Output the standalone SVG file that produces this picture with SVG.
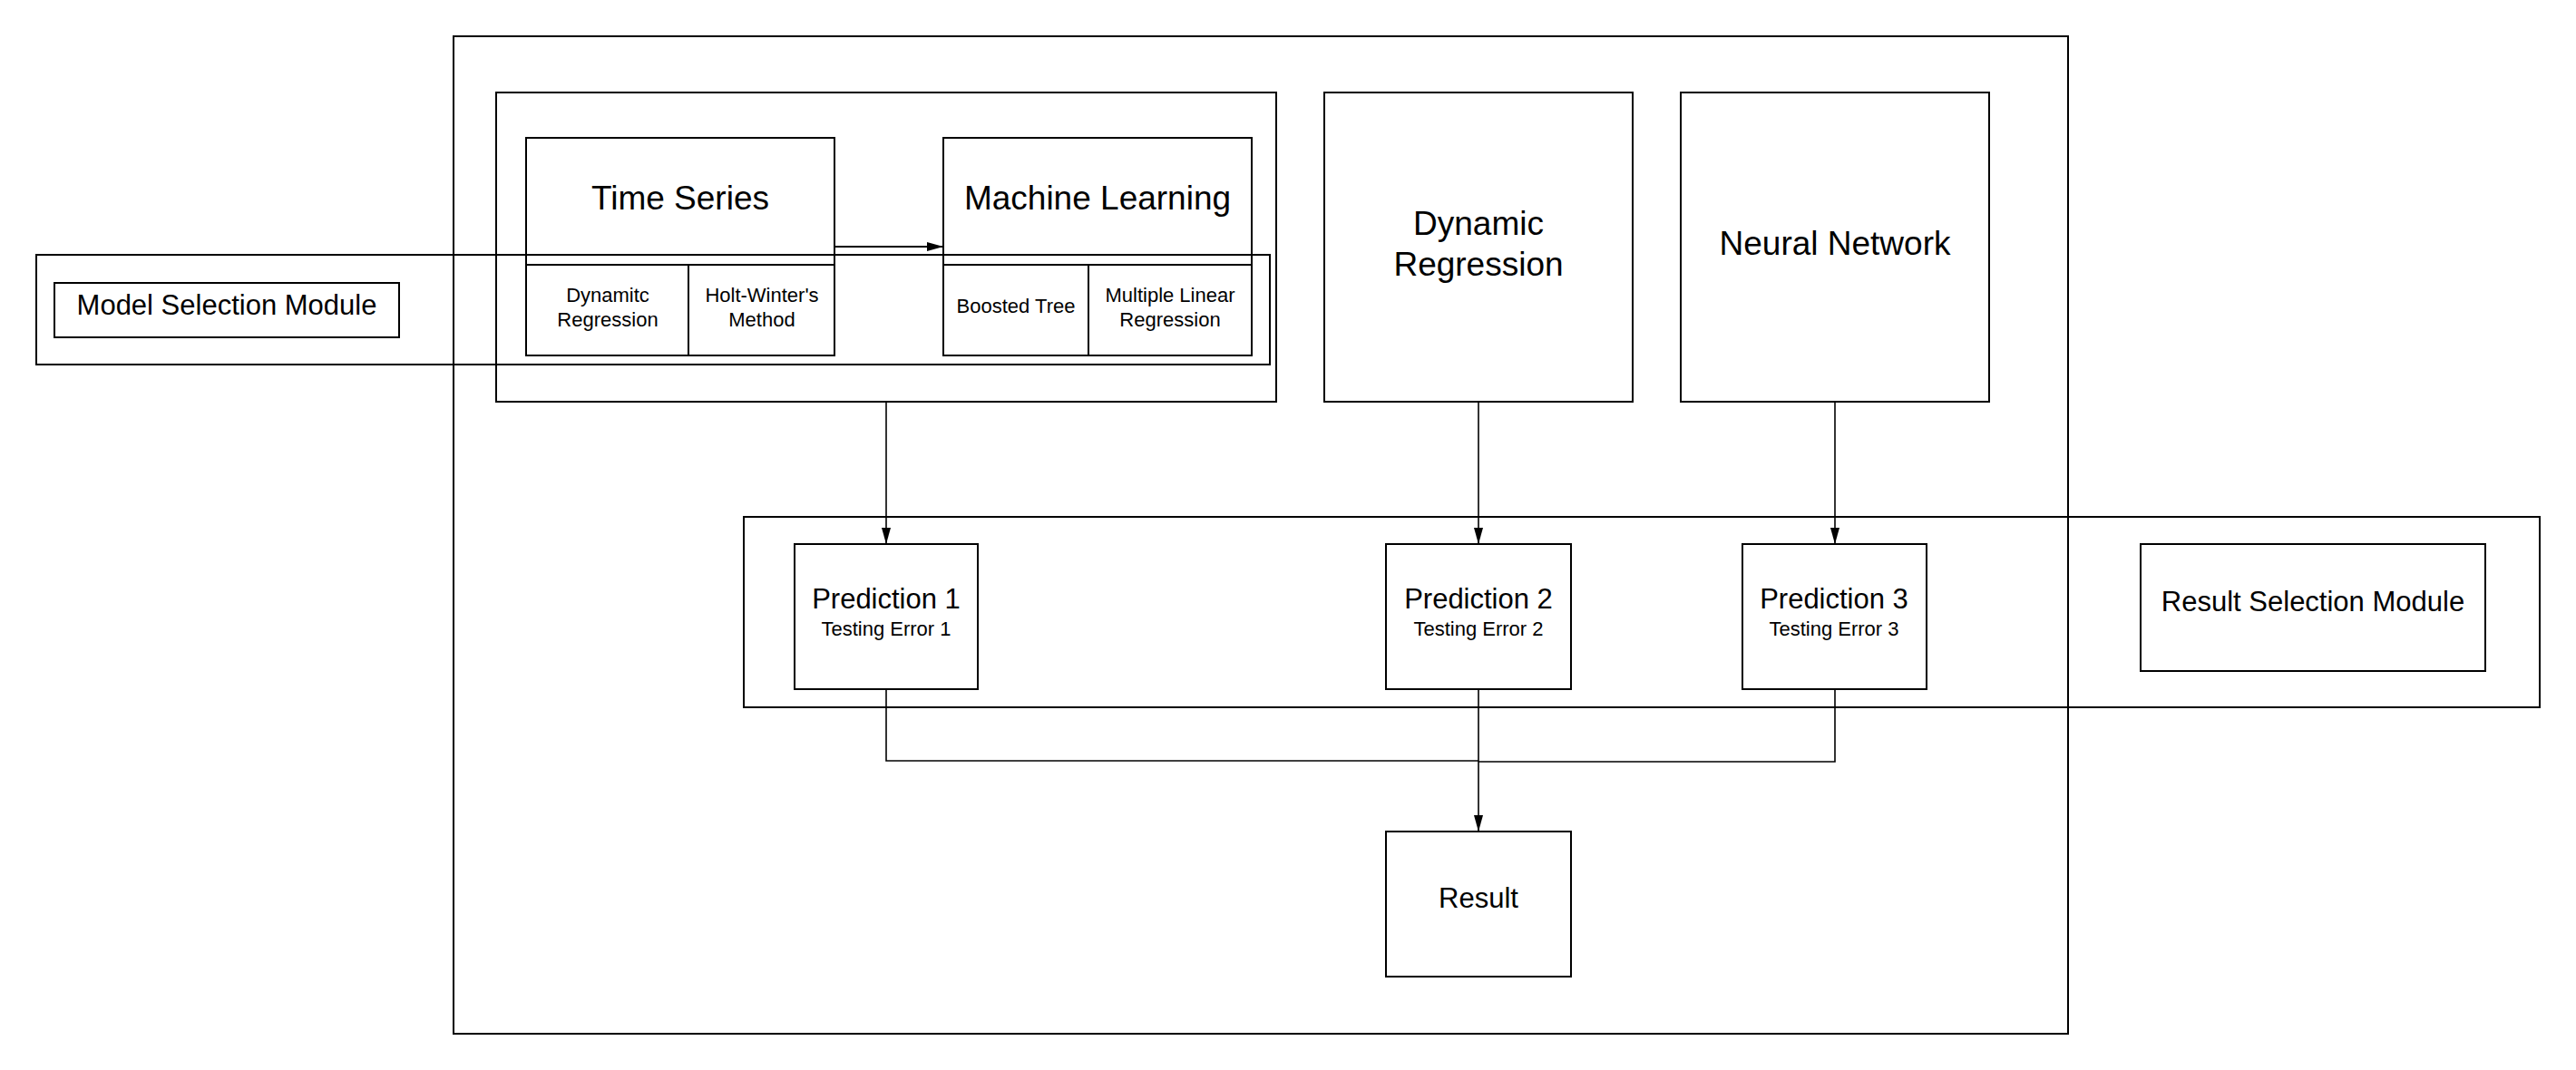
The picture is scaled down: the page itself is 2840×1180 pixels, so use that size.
<svg xmlns="http://www.w3.org/2000/svg" width="2840" height="1180" viewBox="0 0 2840 1180">
<style>
.box{fill:none;stroke:#000;stroke-width:2}
.cn{fill:none;stroke:#000;stroke-width:1.6}
text{font-family:"Liberation Sans",Arial,sans-serif;fill:#000;text-anchor:middle}
.big{font-size:37px}
.mid{font-size:31px}
.sm{font-size:22px}
</style>
<defs>
<marker id="ah" viewBox="0 0 18 10" refX="18" refY="5" markerWidth="18" markerHeight="10" markerUnits="userSpaceOnUse" orient="auto">
<path d="M0,0 L18,5 L0,10 Z" fill="#000"/>
</marker>
</defs>
<rect width="2840" height="1180" fill="#fff"/>
<g id="outer"><rect class="box" x="500" y="40" width="1780" height="1100"/></g>
<g id="model-group"><rect class="box" x="547" y="102" width="860" height="341"/></g>
<g id="time-series">
<rect class="box" x="580" y="152" width="340" height="240"/>
<line class="box" x1="580" y1="292" x2="920" y2="292"/>
<line class="box" x1="759" y1="292" x2="759" y2="392"/>
<text class="big" x="750" y="231">Time Series</text>
<text class="sm" x="670" y="333">Dynamitc</text>
<text class="sm" x="670" y="360">Regression</text>
<text class="sm" x="840" y="333">Holt-Winter's</text>
<text class="sm" x="840" y="360">Method</text>
</g>
<g id="machine-learning">
<rect class="box" x="1040" y="152" width="340" height="240"/>
<line class="box" x1="1040" y1="292" x2="1380" y2="292"/>
<line class="box" x1="1200" y1="292" x2="1200" y2="392"/>
<text class="big" x="1210" y="231">Machine Learning</text>
<text class="sm" x="1120" y="345">Boosted Tree</text>
<text class="sm" x="1290" y="333">Multiple Linear</text>
<text class="sm" x="1290" y="360">Regression</text>
</g>
<g id="dynamic-regression">
<rect class="box" x="1460" y="102" width="340" height="341"/>
<text class="big" x="1630" y="259">Dynamic</text>
<text class="big" x="1630" y="304">Regression</text>
</g>
<g id="neural-network">
<rect class="box" x="1853" y="102" width="340" height="341"/>
<text class="big" x="2023" y="281">Neural Network</text>
</g>
<g id="model-selection">
<rect class="box" x="40" y="281" width="1360" height="121"/>
<rect class="box" x="60" y="312" width="380" height="60"/>
<text class="mid" x="250" y="347">Model Selection Module</text>
</g>
<g id="result-selection">
<rect class="box" x="820" y="570" width="1980" height="210"/>
<rect class="box" x="2360" y="600" width="380" height="140"/>
<text class="mid" x="2550" y="674">Result Selection Module</text>
</g>
<g id="prediction-1">
<rect class="box" x="876" y="600" width="202" height="160"/>
<text class="mid" x="977" y="671">Prediction 1</text>
<text class="sm" x="977" y="701">Testing Error 1</text>
</g>
<g id="prediction-2">
<rect class="box" x="1528" y="600" width="204" height="160"/>
<text class="mid" x="1630" y="671">Prediction 2</text>
<text class="sm" x="1630" y="701">Testing Error 2</text>
</g>
<g id="prediction-3">
<rect class="box" x="1921" y="600" width="203" height="160"/>
<text class="mid" x="2022" y="671">Prediction 3</text>
<text class="sm" x="2022" y="701">Testing Error 3</text>
</g>
<g id="result">
<rect class="box" x="1528" y="917" width="204" height="160"/>
<text class="mid" x="1630" y="1001">Result</text>
</g>
<g id="connectors">
<line class="box" x1="920" y1="272" x2="1040" y2="272" marker-end="url(#ah)"/>
<line class="cn" x1="977" y1="443" x2="977" y2="600" marker-end="url(#ah)"/>
<line class="cn" x1="1630" y1="443" x2="1630" y2="600" marker-end="url(#ah)"/>
<line class="cn" x1="2023" y1="443" x2="2023" y2="600" marker-end="url(#ah)"/>
<polyline class="cn" points="977,760 977,839 1630,839"/>
<polyline class="cn" points="2023,760 2023,840 1630,840"/>
<line class="cn" x1="1630" y1="760" x2="1630" y2="917" marker-end="url(#ah)"/>
</g>
</svg>
